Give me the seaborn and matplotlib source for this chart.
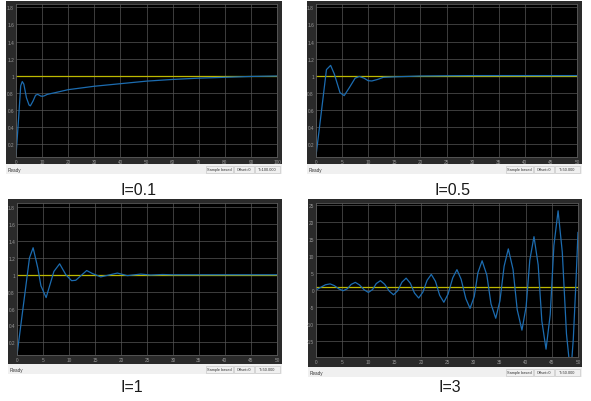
import numpy as np
import pandas as pd
import seaborn as sns
import matplotlib.pyplot as plt
from matplotlib.patches import Rectangle

W, H = 591, 402

# ---- data ----
captions = ['I=0.1', 'I=0.5', 'I=1', 'I=3']
sim_end = ['T=100.000', 'T=50.000', 'T=50.000', 'T=50.000']
setpoint = 1.0

t_01 = [0, 1, 1.8, 2.4, 3.0, 4.0, 5.0, 5.5, 6.5, 7.5, 8.3, 9.5, 10.2, 11, 12, 15, 20, 25,
        30, 35, 40, 45, 50, 60, 70, 80, 90, 100]
y_01 = [0.06, 0.50, 0.88, 0.93, 0.90, 0.74, 0.655, 0.645, 0.70, 0.77, 0.78, 0.76, 0.757, 0.765,
        0.78, 0.80, 0.835, 0.855, 0.875, 0.89, 0.905, 0.92, 0.935, 0.955, 0.97, 0.98, 0.99, 0.995]

t_05 = [0, 1, 2.0, 2.8, 3.5, 4.6, 5.4, 6.4, 7.5, 8.3, 9.2, 10.0, 10.7, 11.8, 12.9, 14.8, 17.4,
        20, 25, 30, 40, 50]
y_05 = [0.06, 0.56, 1.07, 1.12, 1.02, 0.80, 0.765, 0.86, 0.97, 0.99, 0.97, 0.94, 0.937, 0.955,
        0.98, 0.985, 0.99, 0.995, 0.998, 1.0, 1.0, 1.0]

t_1 = [0, 1, 2.4, 3.1, 4.0, 4.6, 5.6, 7.1, 8.2, 9.4, 10.5, 11.3, 13.4, 14.5, 16.1, 19.3, 21.2,
       23.8, 25.7, 28, 30, 35, 40, 50]
y_1 = [0.05, 0.53, 1.2, 1.32, 1.08, 0.87, 0.73, 1.04, 1.13, 1.0, 0.93, 0.935, 1.05, 1.015, 0.975,
       1.02, 0.99, 1.008, 0.997, 1.003, 1.0, 1.0, 1.0, 1.0]

t_3 = [0, 0.9, 1.8, 2.7, 3.5, 4.4, 5.2, 6.0, 6.7, 7.5, 8.3, 9.2, 10.0, 10.8, 11.5, 12.3,
       13.1, 14.0, 14.8, 15.6, 16.4, 17.2, 18.0, 18.8, 19.6, 20.4, 21.2, 22.0, 22.8, 23.6,
       24.4, 25.2, 26.1, 26.9, 27.7, 28.6, 29.4, 30.2, 30.9, 31.7, 32.6, 33.4, 34.3, 35.1,
       35.9, 36.7, 37.6, 38.4, 39.3, 40.1, 40.8, 41.6, 42.4, 43.1, 43.9, 44.7, 45.4, 46.2,
       47.0, 47.8, 48.6, 49.1, 49.6, 50]
y_3 = [0, 0.8, 1.55, 1.8, 1.3, 0.3, -0.2, 0.4, 1.65, 2.25, 1.5, 0.05, -0.7, 0.15, 1.9, 2.75,
       1.7, -0.35, -1.4, -0.2, 2.3, 3.5, 2.0, -0.9, -2.35, -0.6, 2.85, 4.6, 2.55, -1.55,
       -3.6, -1.2, 3.6, 6.0, 3.15, -2.55, -5.4, -1.9, 5.1, 8.6, 4.4, -4.1, -8.3, -3.2,
       7.0, 12.1, 6.1, -5.8, -11.8, -4.9, 8.8, 15.7, 7.4, -9.1, -17.4, -7.2, 13.1, 23.3,
       11.2, -12.9, -25.0, -14.5, 2.0, 17.0]

xmax = [100, 50, 50, 50]
xstep = [10, 5, 5, 5]
ylims = [(0.045, 1.84), (0.045, 1.84), (0.05, 1.85), (-19.7, 25.6)]
yticks = [np.arange(0.2, 1.81, 0.2), np.arange(0.2, 1.81, 0.2), np.arange(0.2, 1.81, 0.2),
          np.arange(-15, 26, 5)]
series = [(t_01, y_01), (t_05, y_05), (t_1, y_1), (t_3, y_3)]

# pixel layout (left, top, right, bottom)
frames = [(6, 2, 282, 165), (307, 2, 582, 165), (8, 200, 282, 365), (308, 200, 582, 368)]
axboxes = [(16, 5, 277, 158), (316, 5, 577, 158), (17, 204, 277, 356), (316, 204, 578, 358)]
bar_h = 10
cap_pos = [(138, 190.5), (452, 190.5), (131.5, 388), (450, 388)]

sns.set_theme(style='dark')
plt.rcParams['font.family'] = ['Liberation Sans', 'DejaVu Sans']

fig = plt.figure(figsize=(W / 100, H / 100), dpi=100)
fig.patch.set_facecolor('white')


def fr(x0, y0, x1, y1):
    return [x0 / W, 1 - y1 / H, (x1 - x0) / W, (y1 - y0) / H]


def box(x0, y0, x1, y1, fc, ec='none', lw=0.0):
    l, b, w, h = fr(x0, y0, x1, y1)
    fig.add_artist(Rectangle((l, b), w, h, transform=fig.transFigure, zorder=-5,
                             facecolor=fc, edgecolor=ec, linewidth=lw))


for i in range(4):
    fx0, fy0, fx1, fy1 = frames[i]
    box(fx0, fy0, fx1, fy1, '#2a2a2a')
    # status bar under the scope
    box(fx0, fy1, fx1, fy1 + bar_h, '#f0f0f0')
    ty = 1 - (fy1 + bar_h / 2 + 0.5) / H
    fig.text((fx0 + 2) / W, ty, 'Ready', fontsize=3.3, color='#333333', va='center')
    segs = [(fx1 - 76, fx1 - 49, 'Sample based'), (fx1 - 48, fx1 - 28, 'Offset=0'),
            (fx1 - 27, fx1 - 2, sim_end[i])]
    for sx0, sx1, s in segs:
        box(sx0, fy1 + 1.5, sx1, fy1 + bar_h - 1.5, '#f0f0f0', ec='#c0c0c0', lw=0.4)
        fig.text((sx0 + sx1) / 2 / W, ty, s, fontsize=2.8, color='#333333',
                 va='center', ha='center')

    ax = fig.add_axes(fr(*axboxes[i]))
    ax.set_facecolor('black')
    t, y = series[i]
    sns.lineplot(x=[0, xmax[i]], y=[setpoint, setpoint], ax=ax, color='#bdb800', lw=0.9)
    sns.lineplot(x=t, y=y, ax=ax, color='#1c6cb0', lw=0.9, estimator=None, sort=False)
    ax.set_xlim(0, xmax[i])
    ax.set_ylim(*ylims[i])
    xt = np.arange(0, xmax[i] + 1, xstep[i])
    ax.set_xticks(xt)
    ax.set_xticklabels([f'{v:g}' for v in xt])
    ax.set_yticks(yticks[i])
    ax.set_yticklabels([f'{v:g}' for v in np.round(yticks[i], 1)])
    ax.grid(True, color='#555555', lw=0.5)
    ax.tick_params(colors='#9a9a9a', labelsize=3.4, length=0, pad=1.5)
    ax.set_xlabel('')
    ax.set_ylabel('')
    for sp in ax.spines.values():
        sp.set_color('#5a5a5a')
        sp.set_linewidth(0.6)

    cx, cy = cap_pos[i]
    fig.text(cx / W, 1 - cy / H, captions[i], fontsize=11.5, color='#1a1a1a',
             ha='center', va='center')

fig.savefig('out.png', dpi=100, facecolor='white')
